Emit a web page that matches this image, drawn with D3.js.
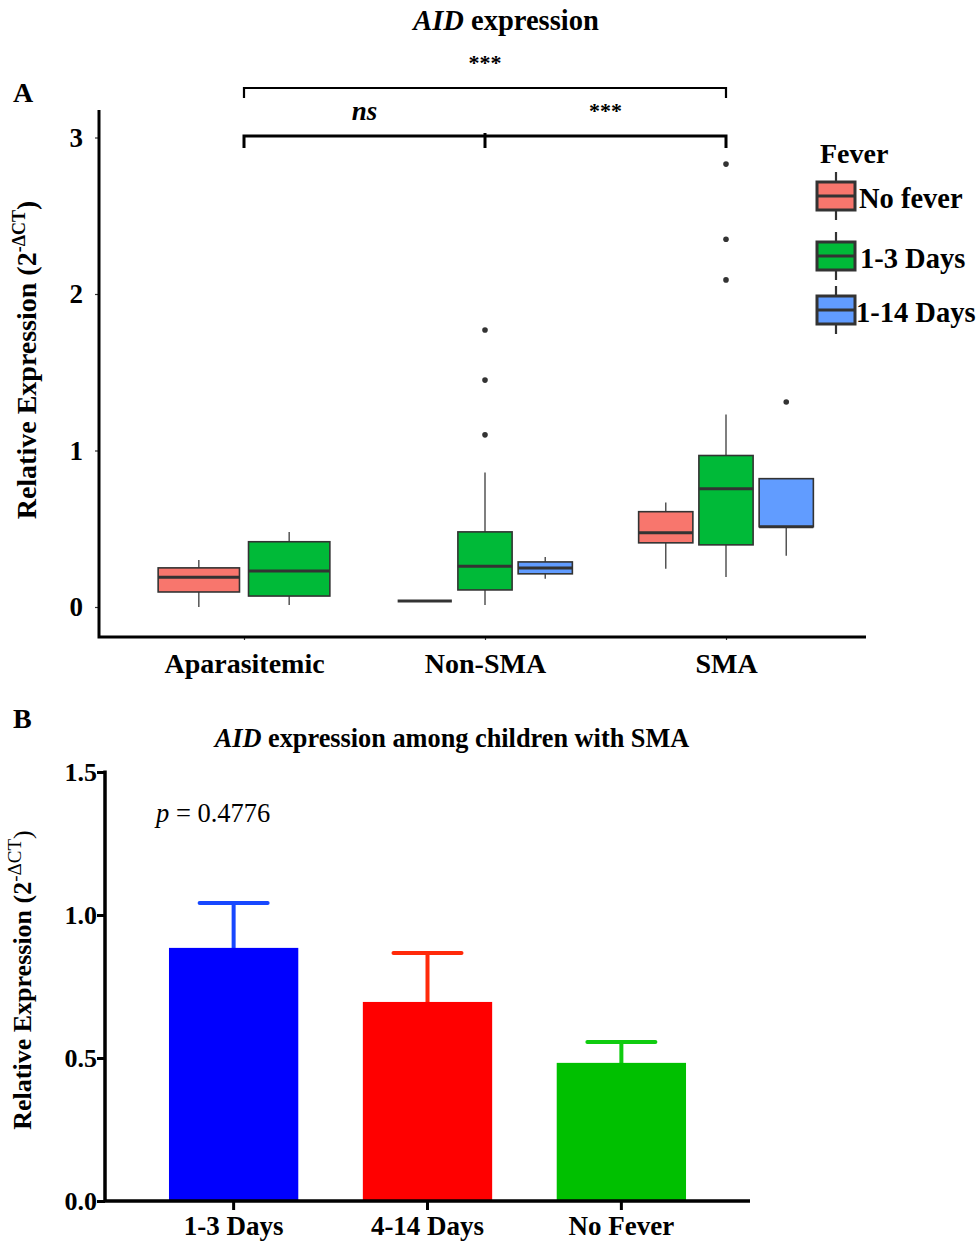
<!DOCTYPE html>
<html>
<head>
<meta charset="utf-8">
<script src="https://cdn.jsdelivr.net/npm/d3@7"></script>
<style>
  html, body { margin: 0; padding: 0; background: #fff; }
  svg { display: block; font-family: "Liberation Serif", "Times New Roman", serif; }
</style>
</head>
<body>
<svg id="chart" width="979" height="1243"></svg>
<script>
// ---- Panel A: AID expression by clinical group and fever duration ----
const groups = ["Aparasitemic", "Non-SMA", "SMA"];
const feverLevels = ["No fever", "1-3 Days", "1-14 Days"];
const feverColors = ["#F8766D", "#00BA38", "#619CFF"];

// one entry per box
const boxGroup  = ["Aparasitemic", "Aparasitemic", "Non-SMA", "Non-SMA", "Non-SMA", "SMA", "SMA", "SMA"];
const boxFever  = ["No fever", "1-3 Days", "No fever", "1-3 Days", "1-14 Days", "No fever", "1-3 Days", "1-14 Days"];
const boxLow    = [0.00, 0.013, 0.038, 0.013, 0.18, 0.244, 0.192, 0.327];
const boxQ1     = [0.096, 0.070, 0.038, 0.109, 0.212, 0.410, 0.397, 0.513];
const boxMedian = [0.19, 0.230, 0.038, 0.260, 0.250, 0.474, 0.756, 0.513];
const boxQ3     = [0.25, 0.417, 0.038, 0.480, 0.288, 0.609, 0.968, 0.820];
const boxHigh   = [0.30, 0.480, 0.038, 0.860, 0.320, 0.667, 1.230, 0.820];

const outlierGroup = ["Non-SMA", "Non-SMA", "Non-SMA", "SMA", "SMA", "SMA", "SMA"];
const outlierFever = ["1-3 Days", "1-3 Days", "1-3 Days", "1-3 Days", "1-3 Days", "1-3 Days", "1-14 Days"];
const outlierValue = [1.10, 1.45, 1.77, 2.09, 2.35, 2.83, 1.31];

const yTicksA = [0, 1, 2, 3];

// ---- Panel B: AID expression among children with SMA ----
const barCategories = ["1-3 Days", "4-14 Days", "No Fever"];
const barMeans  = [0.885, 0.696, 0.483];
const barErrors = [0.157, 0.171, 0.073];
const barColors = ["#0000FF", "#FF0000", "#00C000"];
const errColors = ["#1848FF", "#FF2A0A", "#10CC10"];
const yTicksB = [0.0, 0.5, 1.0, 1.5];

const svg = d3.select("#chart");
const ink = "#000";
const serif = "Liberation Serif";

// ================= Panel A =================
const A = { left: 99, right: 866, top: 110, bottom: 637 };
const yA = d3.scaleLinear().domain([0, 3]).range([607, 137.5]);
const xA = d3.scalePoint().domain(groups).range([99.4, 870.6]).padding(0.6);
const dodgeW = xA.step() * 0.75;

// box positions: each group splits its dodge width among the fever levels it contains
const boxes = boxGroup.map((g, i) => ({
  group: g, fever: boxFever[i], low: boxLow[i], q1: boxQ1[i],
  med: boxMedian[i], q3: boxQ3[i], high: boxHigh[i]
}));
const slotScales = {};
groups.forEach(g => {
  const present = feverLevels.filter(f => boxes.some(b => b.group === g && b.fever === f));
  const c = xA(g);
  slotScales[g] = d3.scaleBand().domain(present)
    .range([c - dodgeW / 2, c + dodgeW / 2]).paddingInner(0.1).paddingOuter(0.05);
});
const color = d3.scaleOrdinal().domain(feverLevels).range(feverColors);
const boxX = d => slotScales[d.group](d.fever);
const boxW = d => slotScales[d.group].bandwidth();
const boxC = d => boxX(d) + boxW(d) / 2;

const gA = svg.append("g");

// whiskers
gA.selectAll("line.whisker-hi").data(boxes).join("line")
  .attr("x1", boxC).attr("x2", boxC)
  .attr("y1", d => yA(d.q3)).attr("y2", d => yA(d.high))
  .attr("stroke", "#555").attr("stroke-width", 1.5);
gA.selectAll("line.whisker-lo").data(boxes).join("line")
  .attr("x1", boxC).attr("x2", boxC)
  .attr("y1", d => yA(d.q1)).attr("y2", d => yA(d.low))
  .attr("stroke", "#555").attr("stroke-width", 1.5);

// boxes
gA.selectAll("rect.box").data(boxes).join("rect")
  .attr("x", boxX).attr("width", boxW)
  .attr("y", d => yA(d.q3))
  .attr("height", d => Math.max(0, yA(d.q1) - yA(d.q3)))
  .attr("fill", d => color(d.fever))
  .attr("stroke", "#333").attr("stroke-width", 1.6);

// medians
gA.selectAll("line.median").data(boxes).join("line")
  .attr("x1", boxX).attr("x2", d => boxX(d) + boxW(d))
  .attr("y1", d => yA(d.med)).attr("y2", d => yA(d.med))
  .attr("stroke", "#333").attr("stroke-width", 3);

// outliers
const outliers = outlierValue.map((v, i) => ({ group: outlierGroup[i], fever: outlierFever[i], v }));
gA.selectAll("circle.outlier").data(outliers).join("circle")
  .attr("cx", boxC).attr("cy", d => yA(d.v)).attr("r", 2.8).attr("fill", "#333");

// axes
const axisAy = gA.append("g").attr("transform", `translate(${A.left},0)`)
  .call(d3.axisLeft(yA).tickValues(yTicksA).tickFormat(d3.format("d")).tickSize(4).tickPadding(12));
axisAy.select(".domain").remove();
axisAy.selectAll(".tick line").attr("stroke", "#333").attr("stroke-width", 1.2);
axisAy.selectAll(".tick text").attr("font-size", 27).attr("font-weight", "bold").attr("fill", ink)
  .attr("font-family", serif);

const axisAx = gA.append("g").attr("transform", `translate(0,${A.bottom})`)
  .call(d3.axisBottom(xA).tickSize(3).tickPadding(13));
axisAx.select(".domain").remove();
axisAx.selectAll(".tick line").attr("stroke", "#333").attr("stroke-width", 1.2);
axisAx.selectAll(".tick text").attr("font-size", 28).attr("font-weight", "bold").attr("fill", ink)
  .attr("font-family", serif);

gA.append("path")
  .attr("d", `M${A.left},${A.top}V${A.bottom}H${A.right}`)
  .attr("fill", "none").attr("stroke", ink).attr("stroke-width", 3);

// significance brackets
const xAp = xA("Aparasitemic"), xNs = xA("Non-SMA"), xSma = xA("SMA");
gA.append("path")
  .attr("d", `M${xAp},98V88H${xSma}V98`)
  .attr("fill", "none").attr("stroke", ink).attr("stroke-width", 2.2);
gA.append("path")
  .attr("d", `M${xAp},148V136H${xSma}V148M${xNs},133V148`)
  .attr("fill", "none").attr("stroke", ink).attr("stroke-width", 3);
gA.append("text").attr("x", (xAp + xSma) / 2).attr("y", 70).attr("text-anchor", "middle")
  .attr("font-size", 22).attr("font-weight", "bold").text("***");
gA.append("text").attr("x", (xAp + xNs) / 2).attr("y", 120).attr("text-anchor", "middle")
  .attr("font-size", 27).attr("font-weight", "bold").attr("font-style", "italic").text("ns");
gA.append("text").attr("x", (xNs + xSma) / 2).attr("y", 118).attr("text-anchor", "middle")
  .attr("font-size", 22).attr("font-weight", "bold").text("***");

// title
const tA = gA.append("text").attr("x", 506).attr("y", 30).attr("text-anchor", "middle")
  .attr("font-size", 28.5).attr("font-weight", "bold");
tA.append("tspan").attr("font-style", "italic").text("AID");
tA.append("tspan").text(" expression");

// panel letter
gA.append("text").attr("x", 13).attr("y", 102).attr("font-size", 28).attr("font-weight", "bold").text("A");

// y label
const yLabA = gA.append("text").attr("transform", "translate(36,360) rotate(-90)")
  .attr("text-anchor", "middle").attr("font-size", 28).attr("font-weight", "bold");
yLabA.append("tspan").text("Relative Expression (2");
yLabA.append("tspan").attr("font-size", 18).attr("dy", -11).text("-ΔCT");
yLabA.append("tspan").attr("dy", 11).text(")");

// legend
const legend = gA.append("g");
legend.append("text").attr("x", 820).attr("y", 163).attr("font-size", 28).attr("font-weight", "bold").text("Fever");
const legendY = [196, 256, 310];
const legendLabelX = [859, 860, 856];
feverLevels.forEach((f, i) => {
  const cy = legendY[i];
  legend.append("line").attr("x1", 836).attr("x2", 836).attr("y1", cy - 24).attr("y2", cy + 24)
    .attr("stroke", "#333").attr("stroke-width", 2.2);
  legend.append("rect").attr("x", 817).attr("y", cy - 14).attr("width", 38).attr("height", 28)
    .attr("fill", color(f)).attr("stroke", "#333").attr("stroke-width", 3);
  legend.append("line").attr("x1", 817).attr("x2", 855).attr("y1", cy).attr("y2", cy)
    .attr("stroke", "#333").attr("stroke-width", 3);
  legend.append("text").attr("x", legendLabelX[i]).attr("y", cy + 12)
    .attr("font-size", 28.5).attr("font-weight", "bold").text(f);
});

// ================= Panel B =================
const B = { left: 105, right: 750, top: 772, bottom: 1201 };
const yB = d3.scaleLinear().domain([0, 1.5]).range([B.bottom, B.top]);
const xB = d3.scaleBand().domain(barCategories).range([B.left, B.right])
  .paddingInner(0.333).paddingOuter(0.33);

const gB = svg.append("g");
const bars = barCategories.map((c, i) => ({ c, m: barMeans[i], e: barErrors[i], col: barColors[i], ec: errColors[i] }));
const barC = d => xB(d.c) + xB.bandwidth() / 2;

// error bars (drawn first so the bar covers the stem base)
gB.selectAll("line.err-stem").data(bars).join("line")
  .attr("x1", barC).attr("x2", barC)
  .attr("y1", d => yB(d.m)).attr("y2", d => yB(d.m + d.e))
  .attr("stroke", d => d.ec).attr("stroke-width", 4).attr("stroke-linecap", "round");
gB.selectAll("line.err-cap").data(bars).join("line")
  .attr("x1", d => barC(d) - 34).attr("x2", d => barC(d) + 34)
  .attr("y1", d => yB(d.m + d.e)).attr("y2", d => yB(d.m + d.e))
  .attr("stroke", d => d.ec).attr("stroke-width", 4).attr("stroke-linecap", "round");

gB.selectAll("rect.bar").data(bars).join("rect")
  .attr("x", d => xB(d.c)).attr("width", xB.bandwidth())
  .attr("y", d => yB(d.m)).attr("height", d => yB(0) - yB(d.m))
  .attr("fill", d => d.col);

// axes
const axisBy = gB.append("g").attr("transform", `translate(${B.left},0)`)
  .call(d3.axisLeft(yB).tickValues(yTicksB).tickFormat(d3.format(".1f")).tickSize(8).tickPadding(0));
axisBy.select(".domain").remove();
axisBy.selectAll(".tick line").attr("stroke", ink).attr("stroke-width", 3);
axisBy.selectAll(".tick text").attr("font-size", 26).attr("font-weight", "bold").attr("fill", ink)
  .attr("font-family", serif);

const axisBx = gB.append("g").attr("transform", `translate(0,${B.bottom})`)
  .call(d3.axisBottom(xB).tickSize(9).tickPadding(6));
axisBx.select(".domain").remove();
axisBx.selectAll(".tick line").attr("stroke", ink).attr("stroke-width", 3);
axisBx.selectAll(".tick text").attr("font-size", 27).attr("font-weight", "bold").attr("fill", ink)
  .attr("font-family", serif);

gB.append("path")
  .attr("d", `M${B.left},${B.top - 1.5}V${B.bottom}H${B.right}`)
  .attr("fill", "none").attr("stroke", ink).attr("stroke-width", 3.5);

// title
const tB = gB.append("text").attr("x", 452).attr("y", 747).attr("text-anchor", "middle")
  .attr("font-size", 26.3).attr("font-weight", "bold");
tB.append("tspan").attr("font-style", "italic").text("AID");
tB.append("tspan").text(" expression among children with SMA");

gB.append("text").attr("x", 13).attr("y", 728).attr("font-size", 28).attr("font-weight", "bold").text("B");

// p value
const pT = gB.append("text").attr("x", 156).attr("y", 822).attr("font-size", 26.5);
pT.append("tspan").attr("font-style", "italic").text("p");
pT.append("tspan").text(" = 0.4776");

// y label
const yLabB = gB.append("text").attr("transform", "translate(31,980) rotate(-90)")
  .attr("text-anchor", "middle").attr("font-size", 26).attr("font-weight", "bold");
yLabB.append("tspan").text("Relative Expression (2");
yLabB.append("tspan").attr("font-size", 19).attr("font-weight", "normal").attr("dy", -10).text("-ΔCT");
yLabB.append("tspan").attr("font-weight", "normal").attr("dy", 10).text(")");
</script>
</body>
</html>
